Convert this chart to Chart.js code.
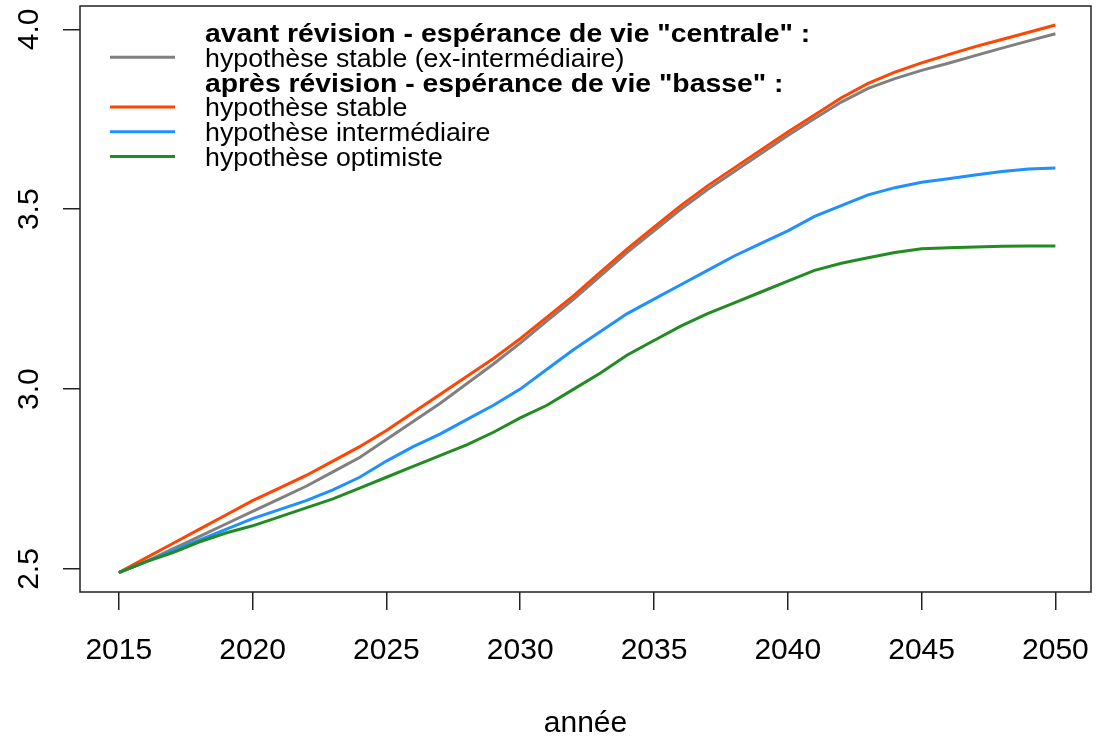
<!DOCTYPE html>
<html>
<head>
<meta charset="utf-8">
<script src="https://cdn.jsdelivr.net/npm/chart.js@4/dist/chart.umd.min.js"></script>
<style>
  body { margin: 0; background: #fff; }
  #wrap { width: 1098px; height: 738px; }
</style>
</head>
<body>
<div id="wrap"><canvas id="chart" width="1098" height="738"></canvas></div>
<script>
// years on the x axis
const years = [2015, 2016, 2017, 2018, 2019, 2020, 2021, 2022, 2023, 2024,
  2025, 2026, 2027, 2028, 2029, 2030, 2031, 2032, 2033, 2034,
  2035, 2036, 2037, 2038, 2039, 2040, 2041, 2042, 2043, 2044,
  2045, 2046, 2047, 2048, 2049, 2050];

// avant révision - hypothèse stable (ex-intermédiaire)
const grayValues = [2.49, 2.52, 2.555, 2.59, 2.625, 2.66, 2.695, 2.73, 2.77, 2.81,
  2.86, 2.91, 2.96, 3.015, 3.07, 3.128, 3.19, 3.25, 3.315, 3.38,
  3.44, 3.50, 3.555, 3.605, 3.655, 3.705, 3.752, 3.798, 3.836, 3.863,
  3.886, 3.906, 3.927, 3.948, 3.968, 3.988];

// après révision - hypothèse stable
const stableValues = [2.49, 2.53, 2.57, 2.61, 2.65, 2.69, 2.725, 2.76, 2.80, 2.84,
  2.885, 2.935, 2.985, 3.035, 3.085, 3.14, 3.20, 3.26, 3.325, 3.39,
  3.45, 3.51, 3.565, 3.615, 3.665, 3.715, 3.762, 3.81, 3.85, 3.881,
  3.907, 3.93, 3.952, 3.972, 3.992, 4.012];

// après révision - hypothèse intermédiaire
const interValues = [2.49, 2.52, 2.55, 2.58, 2.61, 2.64, 2.665, 2.69, 2.72, 2.755,
  2.80, 2.84, 2.875, 2.915, 2.955, 3.00, 3.055, 3.11, 3.16, 3.21,
  3.25, 3.29, 3.33, 3.37, 3.405, 3.44, 3.48, 3.51, 3.54, 3.56,
  3.575, 3.585, 3.595, 3.605, 3.612, 3.615];

// après révision - hypothèse optimiste
const optiValues = [2.49, 2.52, 2.545, 2.575, 2.60, 2.62, 2.645, 2.67, 2.695, 2.725,
  2.755, 2.785, 2.815, 2.845, 2.88, 2.92, 2.955, 3.00, 3.045, 3.095,
  3.135, 3.175, 3.21, 3.24, 3.27, 3.30, 3.33, 3.35, 3.365, 3.38,
  3.39, 3.393, 3.395, 3.397, 3.398, 3.398];

const xTicks = [2015, 2020, 2025, 2030, 2035, 2040, 2045, 2050];
const yTicks = [2.5, 3.0, 3.5, 4.0];
const yTickLabels = ['2.5', '3.0', '3.5', '4.0'];
const xTitle = 'année';

const legendRows = [
  { text: 'avant révision - espérance de vie "centrale" :', bold: true },
  { text: 'hypothèse stable (ex-intermédiaire)', color: '#808080' },
  { text: 'après révision - espérance de vie "basse" :', bold: true },
  { text: 'hypothèse stable', color: '#FF4500' },
  { text: 'hypothèse intermédiaire', color: '#1E90FF' },
  { text: 'hypothèse optimiste', color: '#228B22' }
];

const FONT = '"Liberation Sans", Arial, sans-serif';

function toPoints(values) {
  return years.map((yr, i) => ({ x: yr, y: values[i] }));
}

// box, tick labels, axis title and legend, drawn R-style
const rDecor = {
  id: 'rDecor',
  afterDraw(chart) {
    const ctx = chart.ctx;
    const area = chart.chartArea;
    const xs = chart.scales.x;
    const ys = chart.scales.y;
    ctx.save();

    // plot box
    ctx.strokeStyle = '#222';
    ctx.lineWidth = 1.5;
    ctx.strokeRect(area.left, area.top, area.right - area.left, area.bottom - area.top);

    ctx.fillStyle = '#000';
    // x tick labels
    ctx.font = '30px ' + FONT;
    ctx.textAlign = 'center';
    ctx.textBaseline = 'alphabetic';
    xTicks.forEach(t => {
      ctx.fillText(String(t), xs.getPixelForValue(t), 659);
    });

    // y tick labels, rotated
    yTicks.forEach((t, i) => {
      ctx.save();
      ctx.translate(38, ys.getPixelForValue(t));
      ctx.rotate(-Math.PI / 2);
      ctx.fillText(yTickLabels[i], 0, 0);
      ctx.restore();
    });

    // axis title
    ctx.fillText(xTitle, (area.left + area.right) / 2, 732);

    // legend
    ctx.textAlign = 'left';
    legendRows.forEach((row, i) => {
      const base = 42 + i * 24.8;
      if (row.color) {
        ctx.strokeStyle = row.color;
        ctx.lineWidth = 3;
        ctx.beginPath();
        ctx.moveTo(110, base - 9.5);
        ctx.lineTo(175, base - 9.5);
        ctx.stroke();
      }
      ctx.save();
      ctx.translate(205, base);
      ctx.scale(1.07, 1);
      ctx.font = row.bold ? 'bold 26.5px ' + FONT : '25px ' + FONT;
      ctx.fillStyle = '#000';
      ctx.fillText(row.text, 0, 0);
      ctx.restore();
    });

    ctx.restore();
  }
};

const tickGrid = len => ({
  display: true,
  drawOnChartArea: false,
  drawTicks: true,
  tickLength: len,
  color: '#222',
  lineWidth: 1.5
});

new Chart(document.getElementById('chart'), {
  type: 'line',
  data: {
    datasets: [
      { data: toPoints(grayValues), borderColor: '#808080', order: 4 },
      { data: toPoints(stableValues), borderColor: '#FF4500', order: 3 },
      { data: toPoints(interValues), borderColor: '#1E90FF', order: 2 },
      { data: toPoints(optiValues), borderColor: '#228B22', order: 1 }
    ]
  },
  options: {
    responsive: false,
    animation: false,
    elements: {
      line: { borderWidth: 3, tension: 0, fill: false },
      point: { radius: 0 }
    },
    layout: { padding: { left: 63, top: 6, right: 7, bottom: 128 } },
    plugins: { legend: { display: false }, tooltip: { enabled: false } },
    scales: {
      x: {
        type: 'linear',
        min: 2013.55,
        max: 2051.33,
        afterBuildTicks: s => { s.ticks = xTicks.map(v => ({ value: v })); },
        ticks: { display: false },
        grid: tickGrid(18),
        border: { display: false }
      },
      y: {
        type: 'linear',
        min: 2.436,
        max: 4.065,
        afterBuildTicks: s => { s.ticks = yTicks.map(v => ({ value: v })); },
        ticks: { display: false },
        grid: tickGrid(17),
        border: { display: false }
      }
    }
  },
  plugins: [rDecor]
});
</script>
</body>
</html>
